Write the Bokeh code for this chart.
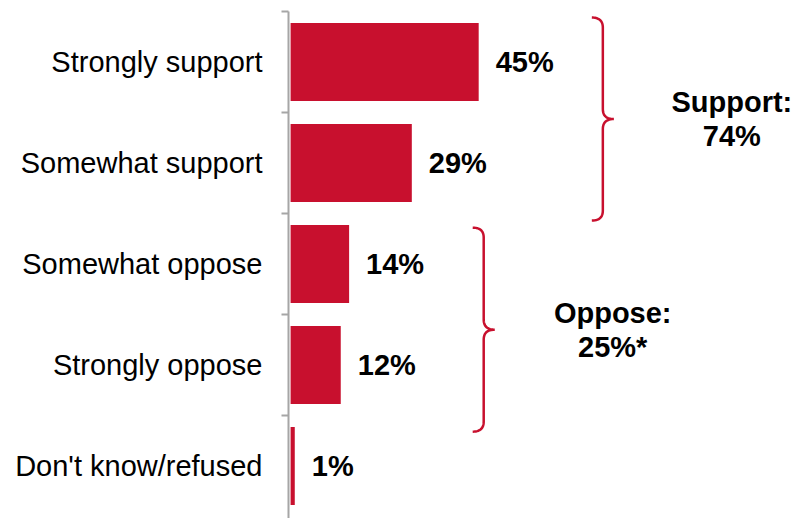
import numpy as np
from bokeh.plotting import figure
from bokeh.models import Range1d, FixedTicker, ColumnDataSource
from bokeh.core.properties import value
from bokeh.embed import file_html
from bokeh.resources import INLINE

# ---- data ----
categories = ["Strongly support", "Somewhat support", "Somewhat oppose",
              "Strongly oppose", "Don't know/refused"]
values = [45, 29, 14, 12, 1]
value_labels = ["45%", "29%", "14%", "12%", "1%"]
group_names = ["Support:", "Oppose:"]
group_totals = ["74%", "25%*"]

# ---- layout / style constants ----
W, H = 796, 518
LEFT, TOP, BOTTOM = 288, 11, 0
frame_w = W - LEFT
frame_h = H - TOP - BOTTOM
px_per_x = 4.18
x_start = -0.5
x_end = x_start + frame_w / px_per_x
n = len(categories)
band_px = 101
y_end = frame_h / band_px
px_per_y = band_px

RED = "#C8102E"
GRAY = "#A6A6A6"
FONT = value("Liberation Sans")

# brace geometry (data x of the vertical stroke, data y extent)
brace_x = [74.7, 46.2]
brace_y = [(0.06, 2.07), (2.14, 4.16)]
group_text_dx_px = 129

p = figure(width=W, height=H, x_range=Range1d(x_start, x_end),
           y_range=Range1d(y_end, 0), output_backend="svg", toolbar_location=None,
           x_axis_location=None, min_border_left=LEFT, min_border_top=TOP,
           min_border_right=0, min_border_bottom=BOTTOM)
p.grid.visible = False
p.outline_line_color = None
p.background_fill_color = "white"
p.border_fill_color = "white"

ys = [i + 0.5 for i in range(n)]
src = ColumnDataSource(dict(y=ys, v=values, lab=value_labels, cat=categories))

p.hbar(y="y", right="v", left=0, height=0.77, source=src,
       fill_color=RED, line_color=None)

p.text(x="v", y="y", text="lab", source=src, x_offset=17,
       text_align="left", text_baseline="middle", text_font=FONT,
       text_font_style="bold", text_font_size="29px", text_color="black")

# y axis with ticks at band boundaries
ax = p.yaxis[0]
ax.ticker = FixedTicker(ticks=ys, minor_ticks=list(range(n)))
ax.major_label_overrides = {y: c for y, c in zip(ys, categories)}
ax.axis_line_color = GRAY
ax.axis_line_width = 2
ax.major_tick_line_color = None
ax.major_tick_out = 0
ax.major_tick_in = 0
ax.minor_tick_line_color = GRAY
ax.minor_tick_line_width = 2
ax.minor_tick_out = 7
ax.minor_tick_in = 0
ax.major_label_standoff = 19
ax.major_label_text_font = "Liberation Sans"
ax.major_label_text_font_size = "29px"
ax.major_label_text_color = "black"


def quad(p0, c, p1, k=14):
    t = np.linspace(0, 1, k)[:, None]
    return (1 - t) ** 2 * np.array(p0) + 2 * (1 - t) * t * np.array(c) + t ** 2 * np.array(p1)


def brace(xv, yt, yb, back=11, tip=11, r=10):
    Yt, Yb = yt * px_per_y, yb * px_per_y
    Ym = (Yt + Yb) / 2
    segs = [
        quad((-back, Yt), (0, Yt), (0, Yt + r)),
        quad((0, Ym - r), (0, Ym), (tip, Ym)),
        quad((tip, Ym), (0, Ym), (0, Ym + r)),
        quad((0, Yb - r), (0, Yb), (-back, Yb)),
    ]
    pts = np.vstack(segs)
    xs = xv + pts[:, 0] / px_per_x
    yv = pts[:, 1] / px_per_y
    return xs, yv


for bx, (yt, yb), name, tot in zip(brace_x, brace_y, group_names, group_totals):
    xs, yv = brace(bx, yt, yb)
    p.line(xs, yv, line_color=RED, line_width=2.5)
    ym = (yt + yb) / 2
    tx = bx + group_text_dx_px / px_per_x
    p.text(x=[tx], y=[ym], text=[name], y_offset=-17, text_align="center",
           text_baseline="middle", text_font=FONT, text_font_style="bold",
           text_font_size="29px", text_color="black")
    p.text(x=[tx], y=[ym], text=[tot], y_offset=17, text_align="center",
           text_baseline="middle", text_font=FONT, text_font_style="bold",
           text_font_size="29px", text_color="black")

open("out.html", "w").write(file_html(p, INLINE))
